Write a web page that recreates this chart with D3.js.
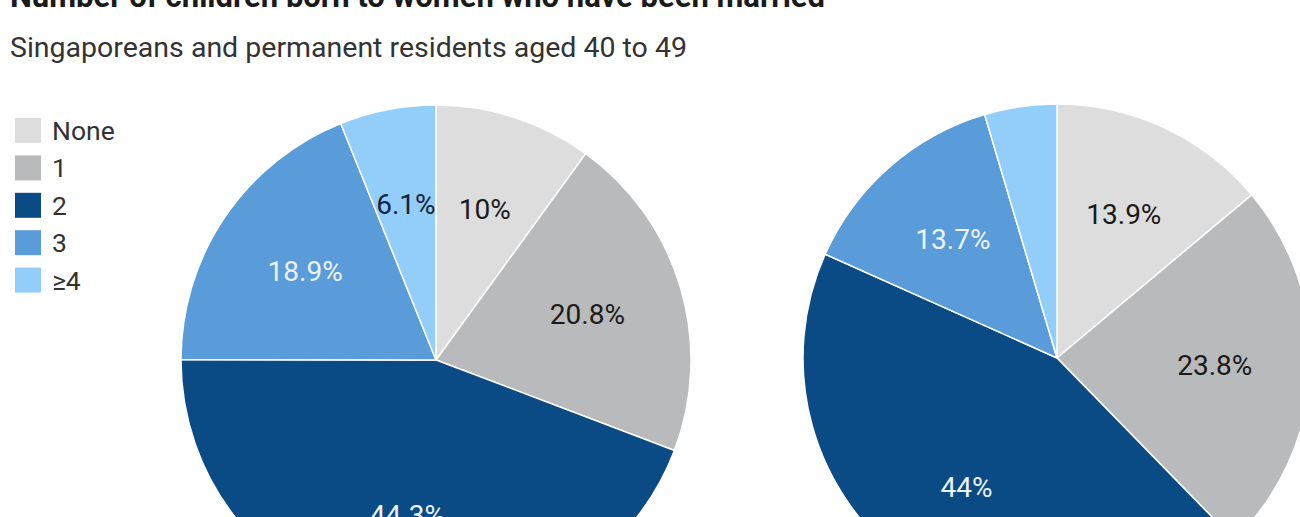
<!DOCTYPE html>
<html>
<head>
<meta charset="utf-8">
<script src="https://cdn.jsdelivr.net/npm/d3@7"></script>
<style>
  html, body { margin: 0; padding: 0; background: #ffffff; }
  svg { display: block; font-family: Roboto, "Noto Sans", sans-serif; }
</style>
</head>
<body>
<svg id="chart" width="1300" height="517"></svg>
<script>
const titleText = "Number of children born to women who have been married";
const subtitleText = "Singaporeans and permanent residents aged 40 to 49";
const categories = ["None", "1", "2", "3", "\u22654"];
const colors = ["#dddddd", "#b9babc", "#0a4b85", "#5a9bd9", "#93cefa"];
const labelColors = ["#1a1a1a", "#1a1a1a", "#eef3f9", "#eef3f9", "#14233c"];
const seriesLeft = [10, 20.8, 44.3, 18.9, 6.1];
const labelsLeft = ["10%", "20.8%", "44.3%", "18.9%", "6.1%"];
const seriesRight = [13.9, 23.8, 44, 13.7, 4.6];
const labelsRight = ["13.9%", "23.8%", "44%", "13.7%", ""];

const svg = d3.select("#chart");

svg.append("text")
  .attr("x", 10).attr("y", 7)
  .attr("font-size", 31).attr("font-weight", 700)
  .attr("fill", "#1a1a1a")
  .text(titleText);

svg.append("text")
  .attr("x", 10).attr("y", 57)
  .attr("font-size", 28.5)
  .attr("fill", "#333333")
  .text(subtitleText);

// legend
const legend = svg.append("g").attr("transform", "translate(15,118)");
const ly = d3.scaleBand().domain(categories).range([0, 187]).paddingInner(0);
categories.forEach((c, i) => {
  const g = legend.append("g").attr("transform", `translate(0,${ly(c)})`);
  g.append("rect").attr("width", 26).attr("height", 25).attr("fill", colors[i]);
  g.append("text").attr("x", 37).attr("y", 12.5)
    .attr("dominant-baseline", "central")
    .attr("font-size", 26.5).attr("fill", "#333333")
    .text(c);
});

const pie = d3.pie().sort(null).value(d => d);

function drawPie(cx, cy, r, values, labels) {
  const g = svg.append("g").attr("transform", `translate(${cx},${cy})`);
  const arcs = pie(values);
  const arc = d3.arc().innerRadius(0).outerRadius(r);
  const labelArc = d3.arc().innerRadius(158).outerRadius(158);
  g.selectAll("path").data(arcs).enter().append("path")
    .attr("d", arc)
    .attr("fill", (d, i) => colors[i])
    .attr("stroke", "#ffffff").attr("stroke-width", 1.5);
  g.selectAll("text.lbl").data(arcs).enter().append("text")
    .attr("class", "lbl")
    .attr("transform", d => `translate(${labelArc.centroid(d)})`)
    .attr("text-anchor", "middle")
    .attr("dominant-baseline", "central")
    .attr("font-size", 28)
    .attr("fill", (d, i) => labelColors[i])
    .text((d, i) => labels[i]);
}

drawPie(436, 360, 255, seriesLeft, labelsLeft);
drawPie(1057, 358, 254, seriesRight, labelsRight);
</script>
</body>
</html>
